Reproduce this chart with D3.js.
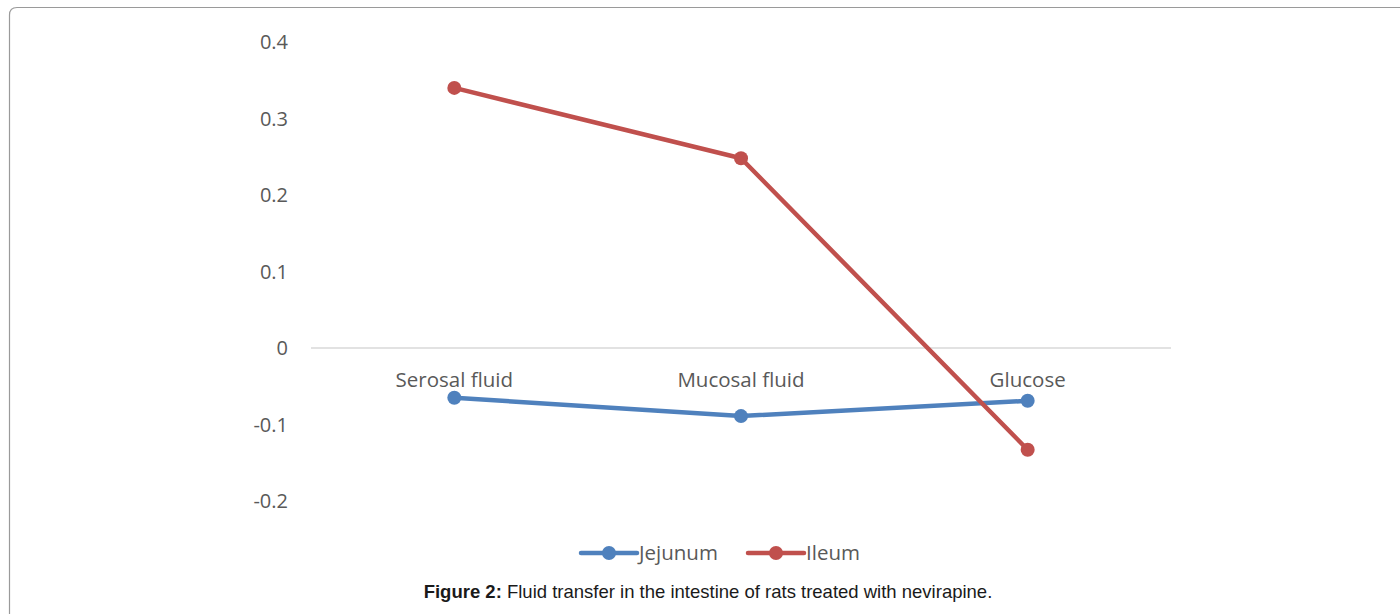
<!DOCTYPE html>
<html>
<head>
<meta charset="utf-8">
<script src="https://cdn.jsdelivr.net/npm/d3@7"></script>
<style>
  body { margin: 0; background: #fff; }
  svg { display: block; }
</style>
</head>
<body>
<div id="chart"></div>
<script>
const categories = ['Serosal fluid', 'Mucosal fluid', 'Glucose'];
const jejunum = [-0.065, -0.089, -0.069];
const ileum = [0.340, 0.248, -0.133];
const yTicks = [0.4, 0.3, 0.2, 0.1, 0, -0.1, -0.2];
const seriesNames = ['Jejunum', 'Ileum'];
const colors = ['#4f81bd', '#c0504d'];

const w = 1400;
const h = 614;

const svg = d3.select('#chart').append('svg').attr('width', w).attr('height', h);

// outer frame, only top-left corner visible
svg.append('path')
   .attr('d', 'M9.5,614 L9.5,15 Q9.5,7.5 17,7.5 L1400,7.5')
   .attr('fill', 'none')
   .attr('stroke', '#9a9a9a')
   .attr('stroke-width', 1.2);

const xScale = d3.scaleBand().domain(categories).range([311, 1171]);
const yScale = d3.scaleLinear().domain([-0.2, 0.4]).range([501, 42]);

// y tick labels (plain hyphen, like the original)
svg.selectAll('.ytick')
   .data(yTicks)
   .enter()
   .append('text')
   .attr('class', 'ytick')
   .attr('x', 288)
   .attr('y', d => yScale(d))
   .attr('dy', '0.35em')
   .attr('text-anchor', 'end')
   .attr('font-family', 'Open Sans, sans-serif')
   .attr('font-size', 20)
   .attr('fill', '#595959')
   .text(d => d === 0 ? '0' : d3.format('.1f')(d).replace('\u2212', '-'));

// zero line
svg.append('line')
   .attr('x1', 311).attr('x2', 1171)
   .attr('y1', yScale(0)).attr('y2', yScale(0))
   .attr('stroke', '#d9d9d9')
   .attr('stroke-width', 1.5);

// category labels
svg.selectAll('.xlab')
   .data(categories)
   .enter()
   .append('text')
   .attr('class', 'xlab')
   .attr('x', d => xScale(d) + xScale.bandwidth() / 2)
   .attr('y', yScale(0) + 39)
   .attr('text-anchor', 'middle')
   .attr('font-family', 'Open Sans, sans-serif')
   .attr('font-size', 20.5)
   .attr('fill', '#595959')
   .text(d => d);

const line = d3.line()
   .x((d, i) => xScale(categories[i]) + xScale.bandwidth() / 2)
   .y(d => yScale(d));

[jejunum, ileum].forEach((series, s) => {
    svg.append('path')
       .datum(series)
       .attr('d', line)
       .attr('fill', 'none')
       .attr('stroke', colors[s])
       .attr('stroke-width', 4.5)
       .attr('stroke-linejoin', 'round');
    svg.selectAll('.dot' + s)
       .data(series)
       .enter()
       .append('circle')
       .attr('cx', (d, i) => xScale(categories[i]) + xScale.bandwidth() / 2)
       .attr('cy', d => yScale(d))
       .attr('r', 7)
       .attr('fill', colors[s]);
});

// legend
const legendX = [581, 748];
seriesNames.forEach((name, i) => {
    const g = svg.append('g').attr('transform', `translate(${legendX[i]}, 553)`);
    g.append('line').attr('x1', 0).attr('x2', 56).attr('y1', 0).attr('y2', 0)
     .attr('stroke', colors[i]).attr('stroke-width', 4.5).attr('stroke-linecap', 'round');
    g.append('circle').attr('cx', 28).attr('cy', 0).attr('r', 7).attr('fill', colors[i]);
    g.append('text').attr('x', 58).attr('y', 0).attr('dy', '0.35em')
     .attr('font-family', 'Open Sans, sans-serif').attr('font-size', 20.5)
     .attr('fill', '#595959').text(name);
});

// caption
const cap = svg.append('text')
   .attr('x', 708).attr('y', 598)
   .attr('text-anchor', 'middle')
   .attr('font-family', 'Liberation Sans, Arial, sans-serif')
   .attr('font-size', 18.5)
   .attr('fill', '#1a1a1a');
cap.append('tspan').attr('font-weight', 'bold').text('Figure 2:');
cap.append('tspan').text(' Fluid transfer in the intestine of rats treated with nevirapine.');
</script>
</body>
</html>
